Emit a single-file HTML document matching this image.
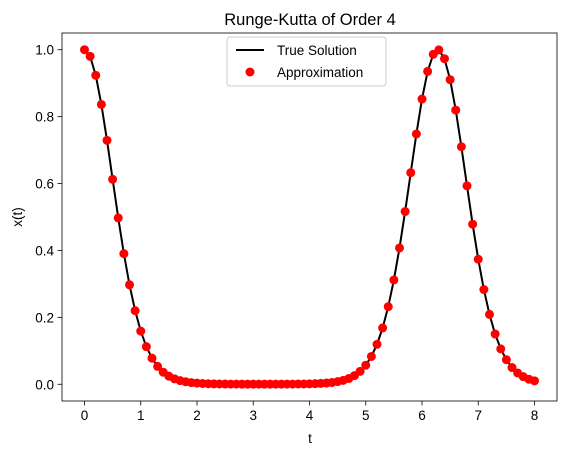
<!DOCTYPE html>
<html><head><meta charset="utf-8"><style>
html,body{margin:0;padding:0;background:#fff;}
svg{display:block;font-family:"Liberation Sans","DejaVu Sans",sans-serif;}
</style></head><body>
<svg id="chart" width="567" height="455" viewBox="0 0 567 455" xmlns="http://www.w3.org/2000/svg">
<rect x="0" y="0" width="567" height="455" fill="#fff"/>
<text x="310" y="25" text-anchor="middle" font-size="16.5" fill="#000">Runge-Kutta of Order 4</text>
<g id="plot"></g>
<text x="310" y="443" text-anchor="middle" font-size="13.5">t</text>
<text x="22" y="217" text-anchor="middle" font-size="13.5" transform="rotate(-90 22 217)">x(t)</text>
</svg>
<script>
const tValues = [0,0.1,0.2,0.3,0.4,0.5,0.6,0.7,0.8,0.9,1.0,1.1,1.2,1.3,1.4,1.5,1.6,1.7,1.8,1.9,2.0,2.1,2.2,2.3,2.4,2.5,2.6,2.7,2.8,2.9,3.0,3.1,3.2,3.3,3.4,3.5,3.6,3.7,3.8,3.9,4.0,4.1,4.2,4.3,4.4,4.5,4.6,4.7,4.8,4.9,5.0,5.1,5.2,5.3,5.4,5.5,5.6,5.7,5.8,5.9,6.0,6.1,6.2,6.3,6.4,6.5,6.6,6.7,6.8,6.9,7.0,7.1,7.2,7.3,7.4,7.5,7.6,7.7,7.8,7.9,8.0];
const trueValues = [1,0.9802,0.9234,0.8364,0.7292,0.6128,0.4973,0.3904,0.2973,0.2201,0.1590,0.1124,0.0780,0.0534,0.0361,0.0243,0.0163,0.0109,0.0074,0.0050,0.0035,0.0024,0.0017,0.0013,0.0010,0.0007,0.0006,0.0005,0.0004,0.0004,0.0003,0.0003,0.0003,0.0003,0.0004,0.0004,0.0005,0.0006,0.0008,0.0010,0.0013,0.0018,0.0026,0.0037,0.0054,0.0079,0.0117,0.0174,0.0260,0.0386,0.0570,0.0831,0.1193,0.1682,0.2320,0.3118,0.4075,0.5163,0.6326,0.7482,0.8527,0.9353,0.9863,0.9994,0.9731,0.9106,0.8195,0.7100,0.5931,0.4785,0.3737,0.2832,0.2088,0.1502,0.1058,0.0733,0.0500,0.0338,0.0227,0.0152,0.0102];
const approxValues = trueValues.slice();
const xTicks = [0,1,2,3,4,5,6,7,8];
const yTicks = [0.0,0.2,0.4,0.6,0.8,1.0];
const yTickLabels = ["0.0","0.2","0.4","0.6","0.8","1.0"];

const L=62,R=557,T=33,B=401;
const xMin=-0.4,xMax=8.4,yMin=-0.05,yMax=1.05;
const sx=v=>L+(v-xMin)/(xMax-xMin)*(R-L);
const sy=v=>B-(v-yMin)/(yMax-yMin)*(B-T);
const NS="http://www.w3.org/2000/svg";
const g=document.getElementById('plot');
function mk(tag,attrs){const e=document.createElementNS(NS,tag);for(const k in attrs)e.setAttribute(k,attrs[k]);g.appendChild(e);return e;}

// ticks
xTicks.forEach(v=>{
  const t=mk('line',{x1:sx(v),x2:sx(v),y1:B,y2:B+4.5,stroke:'#000','stroke-width':0.8});
  
  
  const l=mk('text',{x:sx(v),y:B+19,'text-anchor':'middle','font-size':13.5});
  l.textContent=String(v);
  
  
});
yTicks.forEach((v,i)=>{
  const t=mk('line',{x1:L-4.5,x2:L,y1:sy(v),y2:sy(v),stroke:'#000','stroke-width':0.8});
  
  
  const l=mk('text',{x:L-8,y:sy(v)+5,'text-anchor':'end','font-size':13.5});
  l.textContent=yTickLabels[i];
  
  
});

// true line
const line=mk('polyline',{points:tValues.map((t,i)=>sx(t)+','+sy(trueValues[i])).join(' '),fill:'none',stroke:'#000','stroke-width':2});



// approximation points
tValues.forEach((t,i)=>{
  const c=mk('circle',{cx:sx(t),cy:sy(approxValues[i]),r:4.5,fill:'#ff0000'});
  
  
});

// frame
const fr=mk('rect',{x:L,y:T,width:R-L,height:B-T,fill:'none',stroke:'#000','stroke-width':0.8});



// legend
const lg=mk('rect',{x:227,y:37,width:159,height:49,rx:3,fill:'#fff','fill-opacity':0.8,stroke:'#ccc','stroke-width':1});


const ll=mk('line',{x1:236,x2:264,y1:50,y2:50,stroke:'#000','stroke-width':2});


const lt1=mk('text',{x:277,y:55,'font-size':13.5});
lt1.textContent='True Solution';


const lc=mk('circle',{cx:250,cy:72,r:4.5,fill:'#ff0000'});


const lt2=mk('text',{x:277,y:77,'font-size':13.5});
lt2.textContent='Approximation';


</script>
</body></html>
